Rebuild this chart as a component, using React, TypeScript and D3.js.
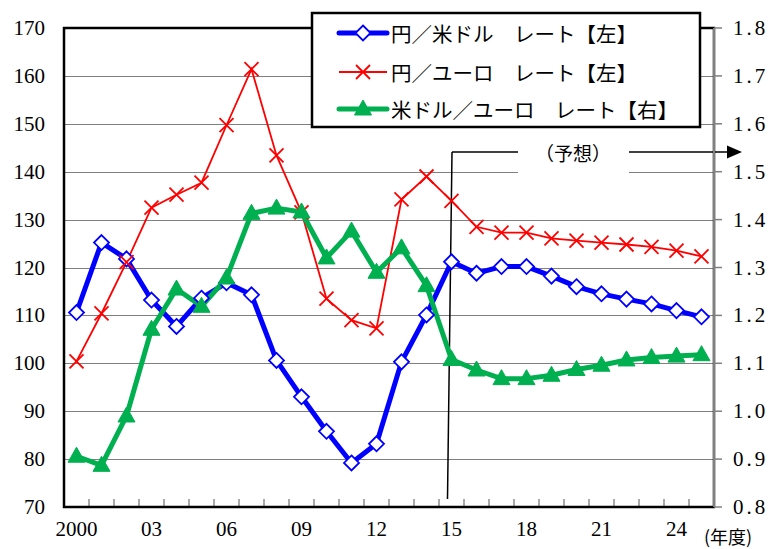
import React from "react";
import * as d3 from "d3";

// Fiscal years 2000–2025 (2016 onward are projections)
const years: number[] = [
  2000, 2001, 2002, 2003, 2004, 2005, 2006, 2007, 2008, 2009, 2010, 2011, 2012,
  2013, 2014, 2015, 2016, 2017, 2018, 2019, 2020, 2021, 2022, 2023, 2024, 2025,
];

// 円／米ドル (left axis)
const yenPerDollar: number[] = [
  110.6, 125.2, 121.8, 113.2, 107.7, 113.6, 116.8, 114.3, 100.6, 93.0, 85.8, 79.2, 83.2,
  100.3, 110.1, 121.2, 118.8, 120.2, 120.2, 118.2, 116.0, 114.5, 113.4, 112.4, 111.0, 109.7,
];

// 円／ユーロ (left axis)
const yenPerEuro: number[] = [
  100.4, 110.4, 121.1, 132.5, 135.2, 137.7, 149.7, 161.4, 143.4, 131.5, 113.5, 109.0, 107.3,
  134.2, 139.0, 133.9, 128.5, 127.3, 127.3, 126.1, 125.6, 125.2, 124.8, 124.3, 123.5, 122.3,
];

// 米ドル／ユーロ (right axis)
const dollarPerEuro: number[] = [
  0.906, 0.887, 0.990, 1.171, 1.255, 1.219, 1.278, 1.413, 1.424, 1.416, 1.320, 1.376, 1.290,
  1.341, 1.262, 1.108, 1.086, 1.068, 1.068, 1.075, 1.087, 1.096, 1.107, 1.112, 1.115, 1.118,
];

const leftTicks: number[] = [70, 80, 90, 100, 110, 120, 130, 140, 150, 160, 170];
const rightTicks: number[] = [0.8, 0.9, 1.0, 1.1, 1.2, 1.3, 1.4, 1.5, 1.6, 1.7, 1.8];
const xLabelYears: number[] = [2000, 2003, 2006, 2009, 2012, 2015, 2018, 2021, 2024];

const legendLabels: string[] = [
  "円／米ドル　レート【左】",
  "円／ユーロ　レート【左】",
  "米ドル／ユーロ　レート【右】",
];
const forecastLabel = "（予想）";
const yearUnit = "(年度)";
const forecastStartYear = 2015;

const W = 770;
const H = 549;
const left = 64;
const right = 714;
const top = 28;
const bottom = 507;

const BLUE = "#0000FF";
const RED = "#FF0000";
const GREEN = "#00B050";
const NUM_FONT = "Liberation Serif";
const JP_FONT = "Noto Sans CJK JP";

const fmtYear = (y: number) => (y === 2000 ? "2000" : String(y % 100).padStart(2, "0"));

export default function App() {
  const x = d3
    .scaleBand<number>()
    .domain(years)
    .range([left, right])
    .paddingInner(0)
    .paddingOuter(0);
  const cx = (yr: number) => (x(yr) ?? 0) + x.bandwidth() / 2;
  const yL = d3.scaleLinear().domain([70, 170]).range([bottom, top]);
  const yR = d3.scaleLinear().domain([0.8, 1.8]).range([bottom, top]);

  const lineL = d3
    .line<number>()
    .x((_, i) => cx(years[i]))
    .y((v) => yL(v));
  const lineR = d3
    .line<number>()
    .x((_, i) => cx(years[i]))
    .y((v) => yR(v));

  const diamond = (px: number, py: number, r = 7.5) =>
    `M${px},${py - r}L${px + r},${py}L${px},${py + r}L${px - r},${py}Z`;
  const cross = (px: number, py: number, r = 7) =>
    `M${px - r},${py - r}L${px + r},${py + r}M${px - r},${py + r}L${px + r},${py - r}`;
  const triangle = (px: number, py: number, w = 8.5, h = 15) =>
    `M${px},${py - h * 0.6}L${px + w},${py + h * 0.4}L${px - w},${py + h * 0.4}Z`;

  const boundaries = d3.range(1, years.length).map((i) => left + i * x.bandwidth());

  const fx = cx(forecastStartYear) - 4;
  const annY = 152;
  const legendRows = [33, 72, 109];
  const sampleX0 = 339;
  const sampleX1 = 387;
  const sampleMid = (sampleX0 + sampleX1) / 2;

  return (
    <svg
      width={W}
      height={H}
      style={{ position: "fixed", left: 0, top: 0, background: "#fff" }}
      xmlns="http://www.w3.org/2000/svg"
    >
      <rect x={0} y={0} width={W} height={H} fill="#fff" />

      {/* horizontal gridlines */}
      {leftTicks.slice(1, -1).map((t) => (
        <line
          key={t}
          x1={left}
          x2={right}
          y1={Math.round(yL(t)) + 0.5}
          y2={Math.round(yL(t)) + 0.5}
          stroke="#7f7f7f"
          strokeWidth={1}
        />
      ))}

      {/* forecast marker */}
      <rect x={518} y={134} width={111} height={42} fill="#fff" />
      <line x1={fx + 4.5} y1={annY} x2={fx} y2={499} stroke="#000" strokeWidth={1.5} />
      <line x1={fx + 4.5} y1={annY} x2={518} y2={annY} stroke="#000" strokeWidth={1.5} />
      <line x1={629} y1={annY} x2={729} y2={annY} stroke="#000" strokeWidth={1.5} />
      <path d={`M727,${annY - 6.5}L742,${annY}L727,${annY + 6.5}Z`} fill="#000" />
      <text
        x={573}
        y={annY}
        textAnchor="middle"
        dominantBaseline="central"
        fontFamily={JP_FONT}
        fontSize={19}
        fill="#000"
      >
        {forecastLabel}
      </text>

      {/* x-axis category ticks */}
      {boundaries.map((bx) => (
        <line key={bx} x1={bx} x2={bx} y1={bottom} y2={bottom - 8} stroke="#555" strokeWidth={1} />
      ))}

      {/* plot frame */}
      <rect
        x={left}
        y={top}
        width={right - left}
        height={bottom - top}
        fill="none"
        stroke="#000"
        strokeWidth={2.5}
      />
      {/* secondary axis */}
      <line x1={right} x2={right} y1={top} y2={bottom} stroke="#808080" strokeWidth={2} />
      {rightTicks.map((t) => (
        <line key={t} x1={right} x2={right + 8} y1={yR(t)} y2={yR(t)} stroke="#808080" strokeWidth={1.5} />
      ))}

      {/* series lines */}
      <path d={lineL(yenPerDollar) ?? ""} fill="none" stroke={BLUE} strokeWidth={5} strokeLinejoin="round" />
      <path d={lineL(yenPerEuro) ?? ""} fill="none" stroke={RED} strokeWidth={1.8} />
      <path d={lineR(dollarPerEuro) ?? ""} fill="none" stroke={GREEN} strokeWidth={5} strokeLinejoin="round" />

      {/* series markers */}
      {yenPerDollar.map((v, i) => (
        <path key={`d${i}`} d={diamond(cx(years[i]), yL(v))} fill="#fff" stroke={BLUE} strokeWidth={1.8} />
      ))}
      {yenPerEuro.map((v, i) => (
        <path key={`x${i}`} d={cross(cx(years[i]), yL(v))} fill="none" stroke={RED} strokeWidth={1.8} />
      ))}
      {dollarPerEuro.map((v, i) => (
        <path key={`t${i}`} d={triangle(cx(years[i]), yR(v))} fill={GREEN} stroke={GREEN} strokeWidth={1} />
      ))}

      {/* left axis labels */}
      {leftTicks.map((t) => (
        <text
          key={t}
          x={45}
          y={yL(t)}
          textAnchor="end"
          dominantBaseline="central"
          fontFamily={NUM_FONT}
          fontSize={21}
          fill="#000"
        >
          {t}
        </text>
      ))}

      {/* right axis labels */}
      {rightTicks.map((t) => (
        <text
          key={t}
          x={733}
          y={yR(t)}
          textAnchor="start"
          dominantBaseline="central"
          fontFamily={NUM_FONT}
          fontSize={21}
          letterSpacing={3}
          fill="#000"
        >
          {t.toFixed(1)}
        </text>
      ))}

      {/* x axis labels */}
      {xLabelYears.map((yr) => (
        <text
          key={yr}
          x={cx(yr)}
          y={529}
          textAnchor="middle"
          dominantBaseline="central"
          fontFamily={NUM_FONT}
          fontSize={21}
          fill="#000"
        >
          {fmtYear(yr)}
        </text>
      ))}
      <text
        x={704}
        y={536}
        textAnchor="start"
        dominantBaseline="central"
        fontFamily={JP_FONT}
        fontSize={18}
        fill="#000"
      >
        {yearUnit}
      </text>

      {/* legend */}
      <rect x={312} y={13} width={388} height={114} fill="#fff" stroke="#000" strokeWidth={2.5} />
      <line x1={sampleX0} x2={sampleX1} y1={legendRows[0]} y2={legendRows[0]} stroke={BLUE} strokeWidth={5} strokeLinecap="round" />
      <path d={diamond(sampleMid, legendRows[0])} fill="#fff" stroke={BLUE} strokeWidth={1.8} />
      <line x1={sampleX0} x2={sampleX1} y1={legendRows[1]} y2={legendRows[1]} stroke={RED} strokeWidth={1.8} />
      <path d={cross(sampleMid, legendRows[1])} fill="none" stroke={RED} strokeWidth={1.8} />
      <line x1={sampleX0} x2={sampleX1} y1={legendRows[2]} y2={legendRows[2]} stroke={GREEN} strokeWidth={5} strokeLinecap="round" />
      <path d={triangle(sampleMid, legendRows[2])} fill={GREEN} stroke={GREEN} strokeWidth={1} />
      {legendLabels.map((label, i) => (
        <text
          key={label}
          x={391}
          y={legendRows[i]}
          dominantBaseline="central"
          fontFamily={JP_FONT}
          fontSize={20.5}
          fill="#000"
        >
          {label}
        </text>
      ))}
    </svg>
  );
}
